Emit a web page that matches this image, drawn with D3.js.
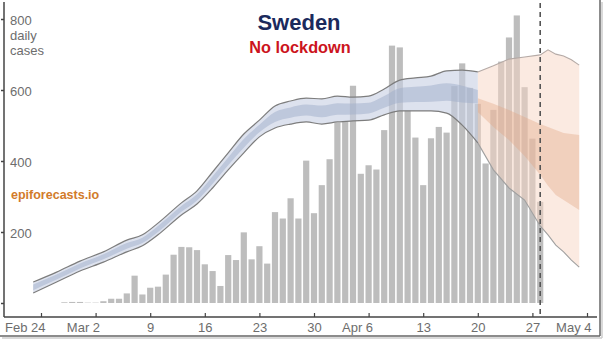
<!DOCTYPE html>
<html><head><meta charset="utf-8">
<script src="https://cdn.jsdelivr.net/npm/d3@7"></script>
<style>
html,body{margin:0;padding:0;background:#fff;}
svg{display:block;font-family:"Liberation Sans",Arial,sans-serif;}
</style></head>
<body>
<svg id="c" width="605" height="342"></svg>
<script>
// ---- data ----
const barStart = "2020-02-27";
const barValues = [2,3,3,1,1,5,12,12,27,77,24,43,46,80,136,158,157,149,109,90,48,135,121,199,123,160,111,256,238,295,238,401,253,332,405,508,512,612,364,388,376,487,725,720,542,466,332,464,496,480,611,675,606,561,393,544,680,748,810,608,463,285];

const estDates = ["2020-02-23","2020-02-26","2020-02-29","2020-03-03","2020-03-06","2020-03-08","2020-03-10","2020-03-13","2020-03-15","2020-03-17","2020-03-19","2020-03-21","2020-03-23","2020-03-25","2020-03-27","2020-03-29","2020-03-31","2020-04-02","2020-04-04","2020-04-06","2020-04-08","2020-04-10","2020-04-12","2020-04-14","2020-04-16","2020-04-18","2020-04-20"];
const estUpper90 = [59,87,118,144,177,192,225,282,316,369,423,476,515,555,569,577,575,583,580,583,603,628,634,639,654,656,651];
const estLower90 = [28,59,90,115,144,161,192,248,279,324,375,423,468,493,504,510,504,510,513,515,530,541,541,541,535,501,451];
const estUpper50 = [52,80,111,137,169,184,217,273,306,357,410,462,502,538,551,559,556,563,562,564,583,605,609,613,619,612,600];
const estLower50 = [36,66,97,123,153,169,200,257,289,336,388,437,481,510,522,528,523,530,531,534,550,564,566,567,570,565,562];

const fcDates = ["2020-04-20","2020-04-22","2020-04-24","2020-04-26","2020-04-28","2020-04-29","2020-04-30","2020-05-01","2020-05-02","2020-05-03"];
const fcUpper90 = [651,668,687,693,699,713,701,696,685,670];
const fcLower90 = [451,375,324,290,217,192,163,144,121,101];
const fcUpper50 = [577,561,544,524,504,496,487,479,476,473];
const fcLower50 = [538,496,459,414,361,330,304,290,276,262];

const tickDates = ["2020-02-24","2020-03-02","2020-03-09","2020-03-16","2020-03-23","2020-03-30","2020-04-06","2020-04-13","2020-04-20","2020-04-27","2020-05-04"];
const tickLabels = ["Feb 24","Mar 2","9","16","23","30","Apr 6","13","20","27","May 4"];
const yTicks = [0,200,400,600,800];
const yTickLabels = ["","200","400","600","800"];
const dataDate = "2020-04-28";

// ---- scales ----
const parse = d3.utcParse("%Y-%m-%d");
const svg = d3.select("#c");
const x = d3.scaleUtc().domain([parse("2020-02-24"), parse("2020-05-04")]).range([41,587]);
const y = d3.scaleLinear().domain([0,800]).range([303,19]);

const barDates = d3.utcDay.range(parse(barStart), d3.utcDay.offset(parse(barStart), barValues.length));
const bars = barDates.map((d,i)=>({date:d, value:barValues[i]}));

// bars
svg.append("g").selectAll("rect").data(bars).join("rect")
  .attr("x", d=>x(d.date)-3.1).attr("width",6.2)
  .attr("y", d=>y(d.value)).attr("height", d=>y(0)-y(d.value))
  .attr("fill","#bdbdbd");

function band(dates, lo, hi){ return dates.map((d,i)=>({date:parse(d), lo:lo[i], hi:hi[i]})); }
const est90 = band(estDates, estLower90, estUpper90);
const est50 = band(estDates, estLower50, estUpper50);
const fc90 = band(fcDates, fcLower90, fcUpper90);
const fc50 = band(fcDates, fcLower50, fcUpper50);

const areaSmooth = d3.area().x(d=>x(d.date)).y0(d=>y(d.lo)).y1(d=>y(d.hi)).curve(d3.curveMonotoneX);
const areaLin = d3.area().x(d=>x(d.date)).y0(d=>y(d.lo)).y1(d=>y(d.hi));
const lineHi = d3.line().x(d=>x(d.date)).y(d=>y(d.hi)).curve(d3.curveMonotoneX);
const lineLo = d3.line().x(d=>x(d.date)).y(d=>y(d.lo)).curve(d3.curveMonotoneX);
const lineHiL = d3.line().x(d=>x(d.date)).y(d=>y(d.hi));
const lineLoL = d3.line().x(d=>x(d.date)).y(d=>y(d.lo));

// forecast ribbons
svg.append("path").attr("d", areaLin(fc90)).attr("fill","rgba(247,214,196,0.5)");
svg.append("path").attr("d", areaLin(fc50)).attr("fill","rgba(225,165,132,0.38)");
svg.append("path").attr("d", lineHiL(fc90)).attr("fill","none").attr("stroke","#b5aaa6").attr("stroke-width",1.1);
svg.append("path").attr("d", lineLoL(fc90)).attr("fill","none").attr("stroke","#a0a0a0").attr("stroke-width",1.1);

// estimate ribbons
svg.append("path").attr("d", areaSmooth(est90)).attr("fill","rgba(198,207,227,0.6)");
svg.append("path").attr("d", areaSmooth(est50)).attr("fill","rgba(159,173,201,0.5)");
svg.append("path").attr("d", lineHi(est90)).attr("fill","none").attr("stroke","#7d7d7d").attr("stroke-width",1.2);
svg.append("path").attr("d", lineLo(est90)).attr("fill","none").attr("stroke","#7d7d7d").attr("stroke-width",1.2);

// dashed data-date line
svg.append("line").attr("x1", x(parse(dataDate))).attr("x2", x(parse(dataDate)))
  .attr("y1",3).attr("y2",318).attr("stroke","#555").attr("stroke-width",1.6).attr("stroke-dasharray","5,4");

// x axis
const xAxis = d3.axisBottom(x).tickValues(tickDates.map(parse))
  .tickFormat((d,i)=>tickLabels[i]).tickSizeInner(-4).tickSizeOuter(0);
const gx = svg.append("g").attr("transform","translate(0,317)").call(xAxis);
gx.select(".domain").remove();
gx.append("line").attr("x1",4).attr("x2",597).attr("stroke","#444").attr("stroke-width",1.5);
gx.selectAll(".tick line").attr("stroke","#444").attr("stroke-width",1.2);
gx.selectAll(".tick text").attr("fill","#6d6d6d").attr("font-size",13).attr("y",6).attr("dy","0.71em")
  .each(function(d,i){ if (/[A-Za-z]/.test(tickLabels[i])) d3.select(this).attr("text-anchor","end").attr("x",4); });

// y axis
const yAxis = d3.axisLeft(y).tickValues(yTicks).tickFormat((d,i)=>yTickLabels[i]).tickSizeInner(3).tickSizeOuter(0);
const gy = svg.append("g").attr("transform","translate(4,0)").call(yAxis);
gy.select(".domain").remove();
gy.append("line").attr("y1",2).attr("y2",317).attr("stroke","#444").attr("stroke-width",1.5);
gy.selectAll(".tick line").attr("stroke","#444").attr("stroke-width",1.5);
gy.selectAll(".tick text").attr("text-anchor","start").attr("x",6).attr("dy","0.4em").attr("fill","#6d6d6d").attr("font-size",13);

svg.append("text").attr("x",10).attr("y",40).attr("fill","#6d6d6d").attr("font-size",13).text("daily");
svg.append("text").attr("x",10).attr("y",55).attr("fill","#6d6d6d").attr("font-size",13).text("cases");

// titles
svg.append("text").attr("x",299).attr("y",30).attr("text-anchor","middle").attr("font-weight","bold")
  .attr("font-size",22).attr("fill","#1b2a5c").text("Sweden");
svg.append("text").attr("x",300).attr("y",53).attr("text-anchor","middle").attr("font-weight","bold")
  .attr("font-size",16.3).attr("fill","#cc1420").text("No lockdown");
svg.append("text").attr("x",11).attr("y",199).attr("font-weight","bold")
  .attr("font-size",12.5).attr("fill","#d27b2a").text("epiforecasts.io");

// frame shadow
svg.append("line").attr("x1",600).attr("x2",600).attr("y1",0).attr("y2",336).attr("stroke","#666").attr("stroke-width",1.5);
svg.append("line").attr("x1",0).attr("x2",600).attr("y1",336).attr("y2",336).attr("stroke","#666").attr("stroke-width",1.5);
svg.append("line").attr("x1",602).attr("x2",602).attr("y1",2).attr("y2",338).attr("stroke","#ccc").attr("stroke-width",1.5);
svg.append("line").attr("x1",2).attr("x2",602).attr("y1",338).attr("y2",338).attr("stroke","#ccc").attr("stroke-width",1.5);
</script>
</body></html>
